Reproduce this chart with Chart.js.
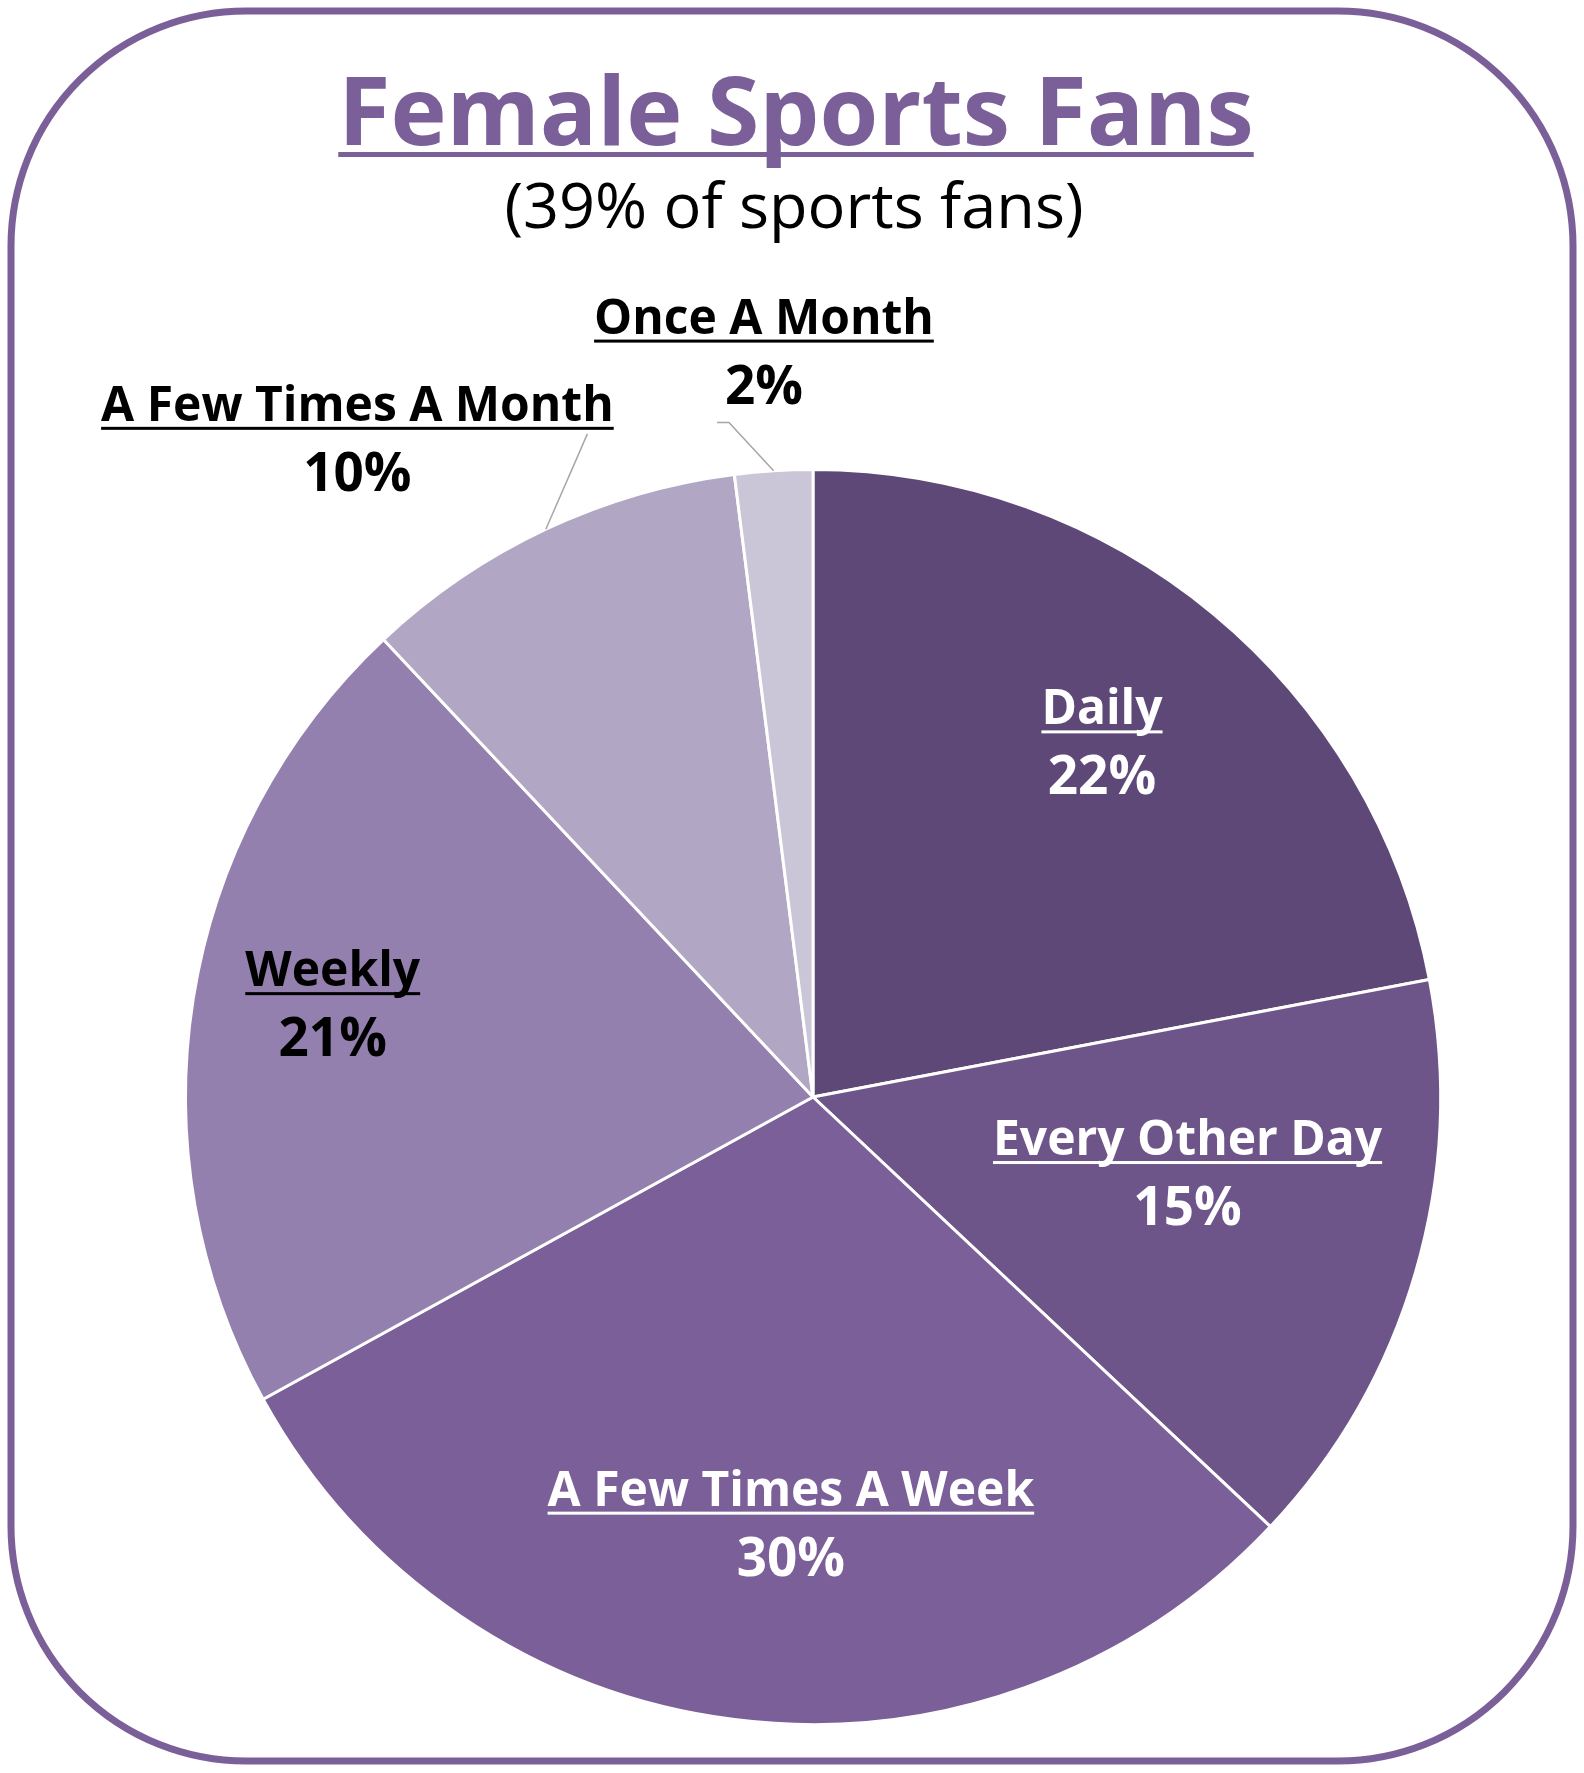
<!DOCTYPE html>
<html>
<head>
<meta charset="utf-8">
<title>Female Sports Fans</title>
<script src="https://cdn.jsdelivr.net/npm/chart.js@4.4.1/dist/chart.umd.min.js"></script>
<style>
  html, body { margin: 0; padding: 0; background: #ffffff; }
  #fansChart { display: block; }
</style>
</head>
<body>
<canvas id="fansChart" width="1584" height="1773"></canvas>
<script>
// how often female fans follow sports (share of respondents, %)
const categories = ['Daily', 'Every Other Day', 'A Few Times A Week', 'Weekly', 'A Few Times A Month', 'Once A Month'];
const shares = [22, 15, 30, 21, 10, 2];
const sliceColors = ['#5e4877', '#6d5489', '#7b5f99', '#9380ae', '#b1a7c4', '#cbc5d8'];
const labelColors = ['#ffffff', '#ffffff', '#ffffff', '#000000', '#000000', '#000000'];

const titleText = 'Female Sports Fans';
const subtitleText = '(39% of sports fans)';

// where each label sits: fraction of radius along the slice middle, then a nudge
const labelSpots = [
  { r: 0.75, dx: -11, dy: -10 },
  { r: 0.60, dx: 13, dy: -47 },
  { r: 0.65, dx: 29, dy: 4 },
  { r: 0.783, dx: 5, dy: -34 },
  { r: 1.286, dx: -112, dy: 54, leader: [[230, 13]] },
  { r: 1.219, dx: -1, dy: 0, leader: [[-35, 89], [-47, 89]] }
];

const purple = '#7b5f99';
const FONT = '"Open Sans", "DejaVu Sans", sans-serif';

const cardFrame = {
  id: 'cardFrame',
  beforeDraw(chart) {
    const ctx = chart.ctx;
    ctx.save();
    ctx.fillStyle = '#ffffff';
    ctx.fillRect(0, 0, chart.width, chart.height);
    ctx.strokeStyle = purple;
    ctx.lineWidth = 7;
    ctx.beginPath();
    ctx.roundRect(11, 11, chart.width - 22, chart.height - 23, 235);
    ctx.stroke();
    ctx.restore();
  }
};

function underlinedText(ctx, text, x, y, color, thick, gap) {
  ctx.fillStyle = color;
  ctx.fillText(text, x, y);
  const w = ctx.measureText(text).width;
  ctx.fillRect(x - w / 2, y + gap, w, thick);
}

const headline = {
  id: 'headline',
  afterDraw(chart) {
    const ctx = chart.ctx;
    ctx.save();
    ctx.textAlign = 'center';
    ctx.textBaseline = 'alphabetic';
    ctx.font = '700 95px ' + FONT;
    underlinedText(ctx, titleText, 796, 145, purple, 5, 7);
    ctx.font = '400 63px ' + FONT;
    ctx.fillStyle = '#000000';
    ctx.fillText(subtitleText, 794, 228);
    ctx.restore();
  }
};

const sliceLabels = {
  id: 'sliceLabels',
  afterDatasetsDraw(chart) {
    const ctx = chart.ctx;
    const arcs = chart.getDatasetMeta(0).data;
    ctx.save();
    ctx.textAlign = 'center';
    ctx.textBaseline = 'alphabetic';
    arcs.forEach((arc, i) => {
      const { x, y, startAngle, endAngle, outerRadius } = arc.getProps(['x', 'y', 'startAngle', 'endAngle', 'outerRadius']);
      const mid = (startAngle + endAngle) / 2;
      const spot = labelSpots[i];
      const lx = x + Math.cos(mid) * outerRadius * spot.r + spot.dx;
      const ly = y + Math.sin(mid) * outerRadius * spot.r + spot.dy;

      if (spot.leader) {
        ctx.strokeStyle = '#a6a6a6';
        ctx.lineWidth = 1.5;
        ctx.beginPath();
        ctx.moveTo(x + Math.cos(mid) * outerRadius, y + Math.sin(mid) * outerRadius);
        spot.leader.forEach(p => ctx.lineTo(lx + p[0], ly + p[1]));
        ctx.stroke();
      }

      ctx.font = '700 48px ' + FONT;
      underlinedText(ctx, categories[i], lx, ly, labelColors[i], 3, 6);
      ctx.font = '700 53px ' + FONT;
      ctx.fillText(shares[i] + '%', lx, ly + 70);
    });
    ctx.restore();
  }
};

new Chart(document.getElementById('fansChart'), {
  type: 'pie',
  data: {
    labels: categories,
    datasets: [{
      data: shares,
      backgroundColor: sliceColors,
      borderColor: '#ffffff',
      borderWidth: 3
    }]
  },
  options: {
    responsive: false,
    animation: false,
    layout: {
      padding: { left: 184, right: 142, top: 467, bottom: 46 }
    },
    plugins: {
      legend: { display: false },
      tooltip: { enabled: false },
      title: { display: false }
    }
  },
  plugins: [cardFrame, sliceLabels, headline]
});
</script>
</body>
</html>
